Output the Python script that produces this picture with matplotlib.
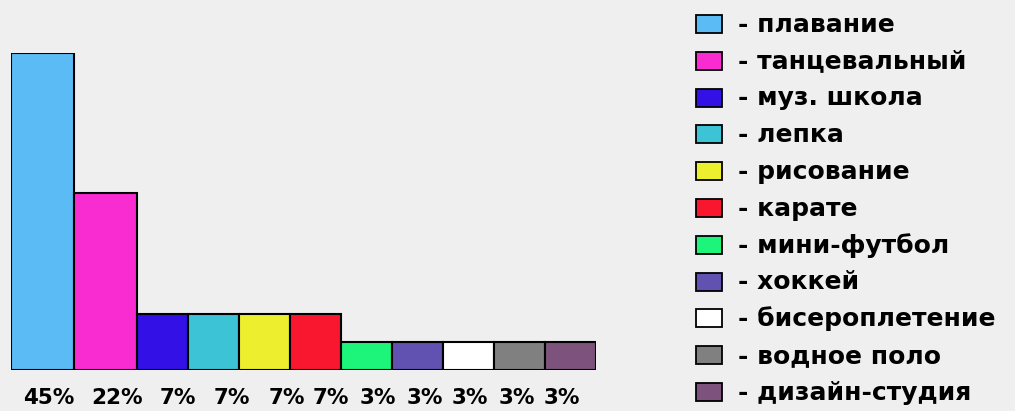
import numpy as np
from matplotlib import pyplot as plt
from matplotlib.patches import Rectangle

categories = ["плавание", "танцевальный", "муз. школа", "лепка", "рисование",
              "карате", "мини-футбол", "хоккей", "бисероплетение",
              "водное поло", "дизайн-студия"]
labels = ["45%", "22%", "7%", "7%", "7%", "7%", "3%", "3%", "3%", "3%", "3%"]
# bar heights as drawn (not proportional to the printed percentages)
heights = [45.0, 25.1, 7.9, 7.9, 7.9, 7.9, 4.0, 4.0, 4.0, 4.0, 4.0]
colors = ["#5bbcf5", "#f82cd0", "#3210e6", "#3cc3d6", "#ecee2e", "#f9162f",
          "#1cf57a", "#6151b0", "#ffffff", "#808080", "#7d527c"]

widths = np.array([63, 63] + [51] * 9, dtype=float)
lefts = np.concatenate([[0], np.cumsum(widths)[:-1]])
label_x = [38, 106, 167, 221, 276, 320, 367, 414, 459, 506, 551]

W, H = 1015, 411
fig = plt.figure(figsize=(W / 100, H / 100), dpi=100)
fig.patch.set_facecolor("#efefef")

ax = fig.add_axes([11 / W, (H - 370) / H, widths.sum() / W, 317 / H])
ax.bar(lefts, heights, width=widths, align="edge", color=colors,
       edgecolor="black", linewidth=1.5)
ax.set_xlim(0, widths.sum())
ax.set_ylim(0, 45)
ax.axis("off")
for x, lab in zip(label_x, labels):
    ax.text(x, -3.97, lab, ha="center", va="center", fontsize=15.5,
            fontweight="bold", family="DejaVu Sans", clip_on=False)

# legend
lax = fig.add_axes([680 / W, 0, 335 / W, 1])
lax.set_xlim(0, 335)
lax.set_ylim(H, 0)
lax.axis("off")
for i, (name, c) in enumerate(zip(categories, colors)):
    yc = 24 + i * 36.8
    lax.add_patch(Rectangle((16, yc - 9), 26, 18, facecolor=c,
                            edgecolor="black", linewidth=1.3))
    lax.text(58, yc - 2, "- " + name, ha="left", va="center_baseline",
             fontsize=18, fontweight="bold", family="DejaVu Sans")

fig.savefig("out.png", dpi=100, facecolor=fig.get_facecolor())
